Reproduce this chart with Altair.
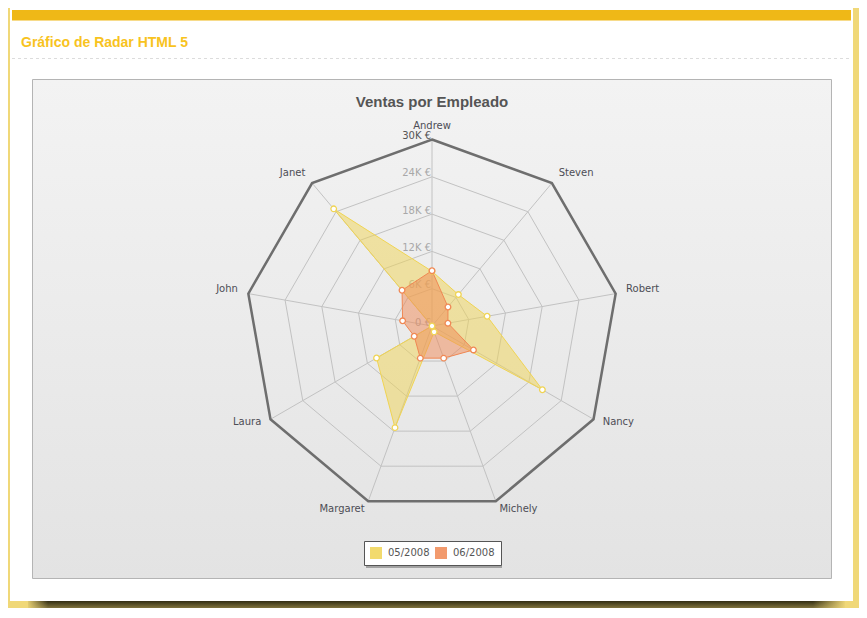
import altair as alt
import pandas as pd

# ---------------- data (thousands of euros) ----------------
categories = ["Andrew", "Steven", "Robert", "Nancy", "Michely",
              "Margaret", "Laura", "John", "Janet"]
series_names = ["05/2008", "06/2008"]
may_2008 = [8.8, 6.6, 9.0, 20.5, 1.0, 17.4, 10.3, 0.0, 24.6]
jun_2008 = [8.9, 4.0, 2.6, 7.7, 5.5, 5.5, 3.3, 4.8, 7.5]
grid_levels = [6, 12, 18, 24, 30]
tick_values = [0, 6, 12, 18, 24, 30]
tick_labels = ["0 €", "6K €", "12K €", "18K €", "24K €", "30K €"]
label_level = 31.7

N = len(categories)
series_df = pd.DataFrame(
    [{"series": s, "cat": c, "idx": i, "v": v, "so": k}
     for k, (s, vals) in enumerate(zip(series_names, [may_2008, jun_2008]))
     for i, (c, v) in enumerate(zip(categories, vals))]
)
grid_df = pd.DataFrame([{"level": l, "idx": i} for l in grid_levels for i in range(N)])
cat_df = pd.DataFrame({"cat": categories, "idx": list(range(N)), "lv": [label_level] * N,
                       "top": [grid_levels[-1]] * N, "zero": [0] * N})
tick_df = pd.DataFrame({"v": tick_values, "label": tick_labels, "zero": [0] * len(tick_values)})
one = pd.DataFrame({"a": [0]})

# ---------------- geometry / scales ----------------
W, H = 851, 600
CX, CY = 424, 318
PX = 186.5 / 30  # pixels per thousand
xs = alt.Scale(domain=[-CX / PX, (W - CX) / PX], nice=False, zero=False)
ys = alt.Scale(domain=[-(H - CY) / PX, CY / PX], nice=False, zero=False)
ANG = f"datum.idx*2*PI/{N}"


def polar(ch, vfield, xn, yn):
    return ch.transform_calculate(**{xn: f"datum.{vfield}*sin({ANG})",
                                     yn: f"datum.{vfield}*cos({ANG})"})


def X(f):
    return alt.X(f"{f}:Q", scale=xs, axis=None)


def Y(f):
    return alt.Y(f"{f}:Q", scale=ys, axis=None)


colors = ["#f0d454", "#f08854"]
fill_scale = alt.Scale(domain=series_names, range=colors)
stroke_scale = alt.Scale(domain=series_names, range=colors)

YELLOW_BG = "#f0d878"

# ---------------- decorations ----------------
shadow = alt.Chart(one).mark_rect(
    fill=alt.LinearGradient(gradient="linear", x1=0, x2=0, y1=0, y2=1,
                            stops=[alt.GradientStop(color="rgba(40,36,14,0.95)", offset=0),
                                   alt.GradientStop(color="rgba(40,36,14,0)", offset=1)])
).encode(x=alt.value(20), x2=alt.value(837), y=alt.value(593), y2=alt.value(610))

fade_left = alt.Chart(one).mark_rect(
    fill=alt.LinearGradient(gradient="linear", x1=0, x2=1, y1=0, y2=0,
                            stops=[alt.GradientStop(color=YELLOW_BG, offset=0),
                                   alt.GradientStop(color="rgba(240,216,120,0)", offset=1)])
).encode(x=alt.value(18), x2=alt.value(40), y=alt.value(593), y2=alt.value(610))

fade_right = alt.Chart(one).mark_rect(
    fill=alt.LinearGradient(gradient="linear", x1=0, x2=1, y1=0, y2=0,
                            stops=[alt.GradientStop(color="rgba(240,216,120,0)", offset=0),
                                   alt.GradientStop(color=YELLOW_BG, offset=1)])
).encode(x=alt.value(805), x2=alt.value(838), y=alt.value(593), y2=alt.value(610))

panel = alt.Chart(one).mark_rect(fill="white").encode(
    x=alt.value(2), x2=alt.value(845), y=alt.value(0), y2=alt.value(593))

gold_bar = alt.Chart(one).mark_rect(fill="#efb817").encode(
    x=alt.value(4), x2=alt.value(843), y=alt.value(2), y2=alt.value(12.5))

page_title = alt.Chart(one).mark_text(
    text="Gráfico de Radar HTML 5", align="left", baseline="alphabetic",
    font="Liberation Sans", fontWeight="bold", fontSize=14, color="#f8c31e"
).encode(x=alt.value(13), y=alt.value(38.5))

dash_line = alt.Chart(one).mark_rule(color="#dcdcdc", strokeDash=[3, 3], strokeWidth=1).encode(
    x=alt.value(4), x2=alt.value(843), y=alt.value(50.5))

inner_box = alt.Chart(one).mark_rect(
    fill=alt.LinearGradient(gradient="linear", x1=0, x2=0, y1=0, y2=1,
                            stops=[alt.GradientStop(color="#f3f3f3", offset=0),
                                   alt.GradientStop(color="#e3e3e3", offset=1)]),
    stroke="#b4b4b4", strokeWidth=1
).encode(x=alt.value(24.5), x2=alt.value(823.5), y=alt.value(71.5), y2=alt.value(570.5))

chart_title = alt.Chart(one).mark_text(
    text="Ventas por Empleado", align="center", baseline="alphabetic",
    font="Liberation Sans", fontWeight="bold", fontSize=15, color="#555555"
).encode(x=alt.value(424), y=alt.value(99))

legend_shadow = alt.Chart(one).mark_rect(fill="#777777", opacity=0.6).encode(
    x=alt.value(358), x2=alt.value(494), y=alt.value(535), y2=alt.value(560))

# ---------------- radar grid ----------------
inner_rings = polar(alt.Chart(grid_df).transform_filter("datum.level < 30"), "level", "gx", "gy").mark_line(
    interpolate="linear-closed", color="#c2c2c2", strokeWidth=1
).encode(x=X("gx"), y=Y("gy"), detail="level:N", order="idx:Q")

outer_ring = polar(alt.Chart(grid_df).transform_filter("datum.level == 30"), "level", "gx", "gy").mark_line(
    interpolate="linear-closed", color="#6e6e6e", strokeWidth=2.5
).encode(x=X("gx"), y=Y("gy"), detail="level:N", order="idx:Q")

spokes = polar(alt.Chart(cat_df), "top", "sx", "sy").mark_rule(color="#c2c2c2", strokeWidth=1).encode(
    x=X("zero"), y=Y("zero"), x2="sx:Q", y2="sy:Q")

ticks = alt.Chart(tick_df).mark_text(
    align="right", baseline="alphabetic", dx=-1, dy=-0.5,
    font="DejaVu Sans", fontSize=10
).encode(
    x=X("zero"), y=Y("v"), text="label:N",
    color=alt.condition("datum.v == 30", alt.value("#555555"), alt.value("#a8a8a8")))


def cat_labels(filt, align):
    return polar(alt.Chart(cat_df).transform_filter(filt), "lv", "lx", "ly").mark_text(
        align=align, baseline="middle", dy=-2.5, font="DejaVu Sans", fontSize=10, color="#4d4d55"
    ).encode(x=X("lx"), y=Y("ly"), text="cat:N")


lab_c = cat_labels("datum.idx == 0", "center")
lab_l = cat_labels("datum.idx >= 1 && datum.idx <= 4", "left")
lab_r = cat_labels("datum.idx >= 5", "right")

# ---------------- series ----------------
areas = polar(alt.Chart(series_df), "v", "px", "py").mark_line(
    interpolate="linear-closed", fillOpacity=0.5, strokeWidth=1
).encode(
    x=X("px"), y=Y("py"),
    fill=alt.Fill("series:N", scale=fill_scale, legend=alt.Legend(
        title=None, orient="none", legendX=356, legendY=533, direction="horizontal",
        fillColor="white", strokeColor="#555555", padding=6,
        symbolType="square", symbolSize=144, symbolStrokeWidth=0, symbolOpacity=0.85,
        labelFont="DejaVu Sans", labelFontSize=10, labelColor="#555555",
        labelOffset=6, columnPadding=5)),
    stroke=alt.Stroke("series:N", scale=stroke_scale, legend=None),
    detail="series:N", order="idx:Q")

points = polar(alt.Chart(series_df), "v", "px", "py").mark_point(
    filled=True, fill="white", size=32, strokeWidth=1.3, opacity=1
).encode(
    x=X("px"), y=Y("py"),
    stroke=alt.Stroke("series:N", scale=stroke_scale, legend=None))

chart = alt.layer(
    shadow, fade_left, fade_right, panel, gold_bar, page_title, dash_line, inner_box, chart_title,
    inner_rings, spokes, outer_ring, ticks, lab_c, lab_l, lab_r, legend_shadow,
    areas, points
).properties(
    width=W, height=H, padding=0,
    autosize=alt.AutoSizeParams(type="none"),
    background=YELLOW_BG
).configure_view(stroke=None)

chart.save("out.html", embed_options={"renderer": "svg", "actions": False})
